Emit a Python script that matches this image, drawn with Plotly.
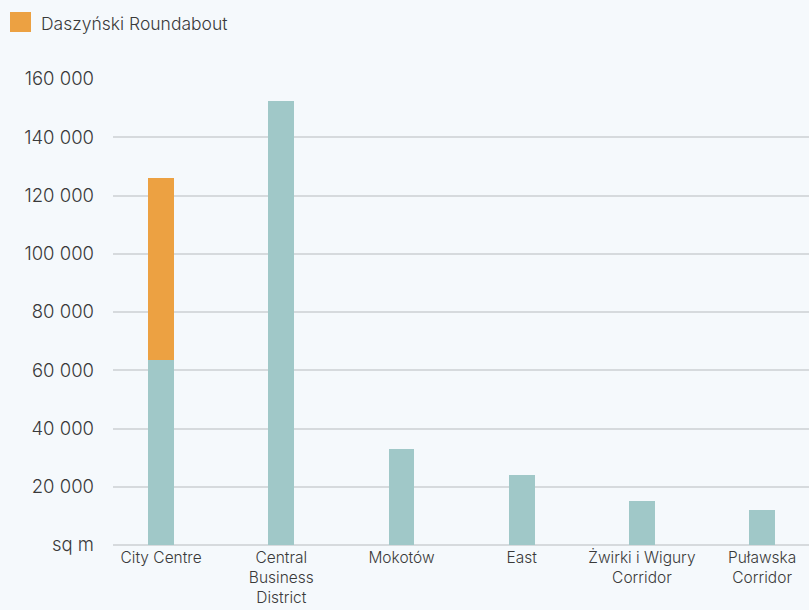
import plotly.graph_objects as go

categories = ["City Centre", "Central<br>Business<br>District", "Mokotów", "East",
              "Żwirki i Wigury<br>Corridor", "Puławska<br>Corridor"]
base_values = [63500, 152500, 33000, 24000, 15000, 12000]
daszynski_values = [62500, 0, 0, 0, 0, 0]
legend_label = "Daszyński Roundabout"
tick_vals = [0, 20000, 40000, 60000, 80000, 100000, 120000, 140000, 160000]
tick_text = ["sq m", "20 000", "40 000", "60 000", "80 000", "100 000", "120 000", "140 000", "160 000"]

TEAL = "#a0c8c8"
ORANGE = "#eca142"
BG = "#f5f9fc"
FONT = "Inter"
TXT = "#3a3a3a"

fig = go.Figure()
fig.add_trace(go.Bar(x=categories, y=base_values, marker_color=TEAL, width=0.216,
                     marker_line_width=0, name="Base", showlegend=False))
fig.add_trace(go.Bar(x=categories, y=daszynski_values, marker_color=ORANGE, width=0.216,
                     marker_line_width=0, name=legend_label, showlegend=False))

# legend drawn as a key square + label (reference uses a large square key)
PW, PH, MT = 696, 466, 79
fig.add_shape(type="rect", xref="paper", yref="paper",
              x0=-103 / PW, x1=-82 / PW,
              y0=1 + (MT - 32) / PH, y1=1 + (MT - 12) / PH,
              line_width=0, fillcolor=ORANGE)
fig.add_annotation(text=legend_label, xref="paper", yref="paper",
                   x=-74 / PW, y=1 + (MT - 24) / PH, xanchor="left", yanchor="middle",
                   showarrow=False, font=dict(size=17.5, color=TXT, family=FONT, weight=300))

fig.update_layout(
    barmode="stack",
    width=809, height=610,
    paper_bgcolor=BG, plot_bgcolor=BG,
    margin=dict(l=113, r=0, t=79, b=65, autoexpand=False),
    font=dict(family=FONT, color=TXT, size=16, weight=300),
    showlegend=False,
    xaxis=dict(range=[-0.4, 5.39], showgrid=False, showline=False, zeroline=False,
               tickfont=dict(size=15.5, color=TXT, weight=300), ticks="",
               ticklabelstandoff=1),
    yaxis=dict(range=[0, 160000], tickvals=tick_vals, ticktext=tick_text,
               showgrid=True, gridcolor="#d6dadd", gridwidth=1.5,
               zeroline=True, zerolinecolor="#d6dadd", zerolinewidth=1.5,
               showline=False, ticks="", ticklabelstandoff=18,
               tickfont=dict(size=18.5, color=TXT, weight=300)),
)

fig.write_html("out.html")
